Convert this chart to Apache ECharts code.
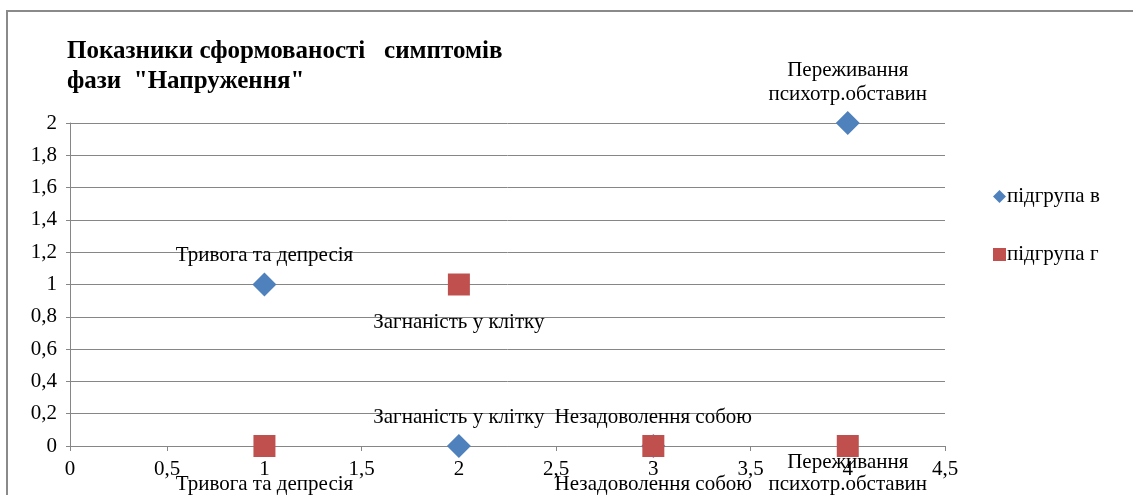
<!DOCTYPE html>
<html>
<head>
<meta charset="utf-8">
<script src="https://cdn.jsdelivr.net/npm/echarts@6/dist/echarts.min.js"></script>
<style>
  html, body { margin: 0; padding: 0; background: #fff; }
  #chart { width: 1133px; height: 495px; }
</style>
</head>
<body>
<div id="chart"></div>
<script>
// дані
const xValues = [1, 2, 3, 4];
const symptoms = ['Тривога та депресія', 'Загнаність у клітку', 'Незадоволення собою', 'Переживання\nпсихотр.обставин'];
const groupV = [1, 0, 0, 2];
const groupG = [0, 1, 0, 0];
const seriesNames = ['підгрупа в', 'підгрупа г'];

const font = 'Liberation Serif';
const comma = v => String(v).replace('.', ',');

const chart = echarts.init(document.getElementById('chart'));

chart.setOption({
  animation: false,
  textStyle: { fontFamily: font },
  graphic: [{
    type: 'rect',
    shape: { x: 7, y: 11, width: 1300, height: 700 },
    style: { fill: 'none', stroke: '#8a8a8a', lineWidth: 2 },
    silent: true
  }],
  title: {
    text: 'Показники сформованості   симптомів\nфази  "Напруження"',
    left: 62,
    top: 32,
    textStyle: { fontFamily: font, fontSize: 25, fontWeight: 'bold', color: '#000', lineHeight: 30 }
  },
  legend: {
    orient: 'vertical',
    left: 988,
    top: 181,
    itemGap: 37,
    itemWidth: 13,
    itemHeight: 13,
    textStyle: { fontFamily: font, fontSize: 21, color: '#000', padding: [0, 0, 0, -4] },
    data: [
      { name: seriesNames[0], icon: 'diamond' },
      { name: seriesNames[1], icon: 'rect' }
    ]
  },
  grid: { left: 70, right: 188, top: 123, bottom: 49 },
  xAxis: {
    type: 'value',
    min: 0,
    max: 4.5,
    interval: 0.5,
    axisLine: { show: true, onZero: false, lineStyle: { color: '#868686' } },
    axisTick: { show: true, length: 5, lineStyle: { color: '#868686' } },
    splitLine: { show: false },
    axisLabel: { color: '#000', fontFamily: font, fontSize: 21, margin: 13, formatter: comma, showMaxLabel: true }
  },
  yAxis: {
    type: 'value',
    min: 0,
    max: 2,
    interval: 0.2,
    axisLine: { show: true, lineStyle: { color: '#868686' } },
    axisTick: { show: true, length: 4, lineStyle: { color: '#868686' } },
    splitLine: { show: true, lineStyle: { color: '#868686', width: 1 } },
    axisLabel: { color: '#000', fontFamily: font, fontSize: 21, margin: 13, formatter: v => comma(+v.toFixed(1)) }
  },
  series: [
    {
      name: seriesNames[0],
      type: 'scatter',
      symbol: 'diamond',
      symbolSize: [24, 24],
      itemStyle: { color: '#4f81bd', opacity: 1 },
      label: {
        show: true,
        position: 'top',
        distance: 5,
        color: '#000',
        fontFamily: font,
        fontSize: 21,
        lineHeight: 24,
        align: 'center',
        formatter: p => symptoms[p.dataIndex]
      },
      data: xValues.map((x, i) => [x, groupV[i]])
    },
    {
      name: seriesNames[1],
      type: 'scatter',
      symbol: 'rect',
      symbolSize: 22,
      itemStyle: { color: '#c0504d', opacity: 1 },
      label: {
        show: true,
        position: 'bottom',
        distance: 15,
        color: '#000',
        fontFamily: font,
        fontSize: 21,
        lineHeight: 24,
        align: 'center',
        formatter: p => symptoms[p.dataIndex]
      },
      data: xValues.map((x, i) => {
        const item = { value: [x, groupG[i]] };
        if (i === 3) item.label = { distance: -6, lineHeight: 22 };
        return item;
      })
    }
  ]
});
</script>
</body>
</html>
